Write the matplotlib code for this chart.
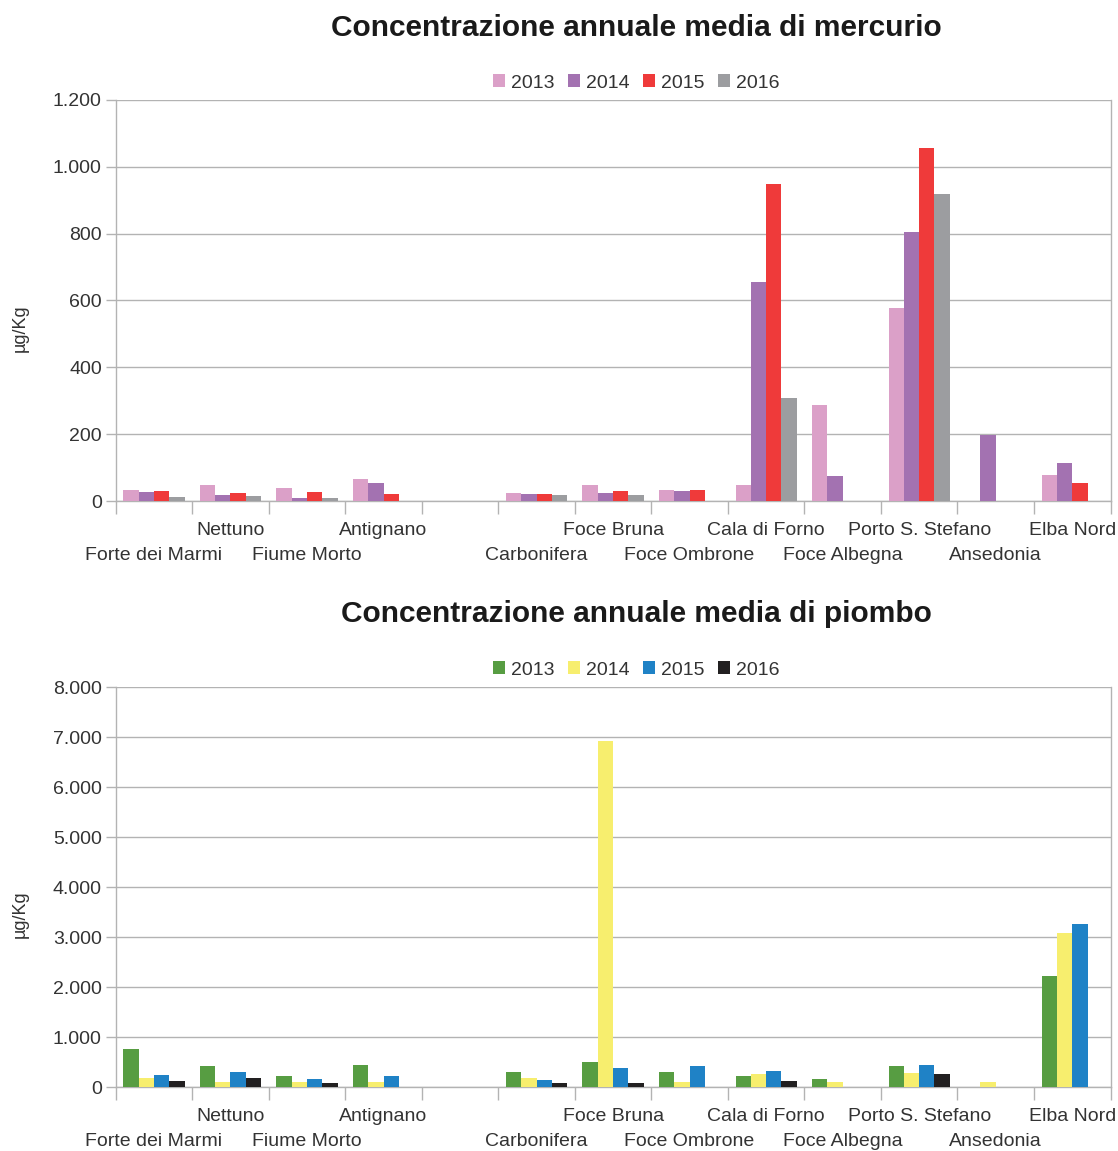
import numpy as np
import matplotlib.pyplot as plt
from matplotlib.ticker import FuncFormatter

plt.rcParams["font.family"] = ["Liberation Sans", "DejaVu Sans"]

# stazioni (lo slot vuoto dopo Antignano resta senza etichetta)
stazioni = ["Forte dei Marmi", "Nettuno", "Fiume Morto", "Antignano", "",
            "Carbonifera", "Foce Bruna", "Foce Ombrone", "Cala di Forno",
            "Foce Albegna", "Porto S. Stefano", "Ansedonia", "Elba Nord"]
riga_alta = [False, True, False, True, False, False, True, False, True,
             False, True, False, True]
anni = ["2013", "2014", "2015", "2016"]

# mercurio, µg/Kg
hg_2013 = [32, 47, 38, 65, 0, 23, 47, 32, 47, 287, 578, 0, 77]
hg_2014 = [26, 17, 8, 53, 0, 20, 23, 29, 656, 74, 804, 198, 113]
hg_2015 = [29, 23, 26, 20, 0, 20, 29, 32, 950, 0, 1055, 0, 53]
hg_2016 = [11, 14, 8, 0, 0, 17, 17, 0, 308, 0, 920, 0, 0]

# piombo, µg/Kg
pb_2013 = [766, 426, 226, 446, 0, 306, 506, 306, 226, 166, 426, 0, 2220]
pb_2014 = [186, 106, 106, 106, 0, 186, 6925, 106, 266, 106, 286, 106, 3080]
pb_2015 = [246, 306, 166, 226, 0, 146, 386, 426, 326, 0, 446, 0, 3260]
pb_2016 = [126, 186, 86, 0, 0, 86, 86, 0, 126, 0, 266, 0, 0]

col_hg = ["#dba0c8", "#a372b1", "#ef3a3a", "#9c9da0"]
col_pb = ["#579d42", "#f7ee6e", "#1f82c6", "#222021"]

grigio = "#b3b3b3"
testo = "#333333"


def migliaia(v, pos):
    return f"{int(v):,}".replace(",", ".")


def grafico(ax, serie, colori, titolo, ymax, passo, y_tit, y_leg, y_lab):
    x = np.arange(len(stazioni))
    w = 0.2
    for i, (vals, c) in enumerate(zip(serie, colori)):
        ax.bar(x + (i - 1.5) * w, vals, w, color=c, linewidth=0, label=anni[i], zorder=3)

    ax.set_xlim(-0.5, len(stazioni) - 0.5)
    ax.set_ylim(0, ymax)
    ax.set_yticks(np.arange(0, ymax + 1, passo))
    ax.yaxis.set_major_formatter(FuncFormatter(migliaia))
    ax.grid(axis="y", color=grigio, linewidth=1, zorder=0)

    ax.set_xticks(np.arange(-0.5, len(stazioni)))
    ax.set_xticklabels([])
    ax.tick_params(axis="x", length=9, color=grigio, width=1)
    ax.tick_params(axis="y", length=7, color=grigio, width=1, labelsize=14,
                   labelcolor=testo, pad=3)

    # etichette delle stazioni su due righe alternate
    h = ax.get_position().height * 1151
    for xi, s, alto in zip(x, stazioni, riga_alta):
        dy = -29.5 / h if alto else -54.5 / h
        ax.text(xi, dy, s, transform=ax.get_xaxis_transform(), ha="center",
                va="center", fontsize=14, color=testo)

    for lato in ["left", "bottom", "right"]:
        ax.spines[lato].set_color(grigio)
        ax.spines[lato].set_linewidth(1)
    ax.spines["top"].set_visible(False)

    fig.text(20 / 1118, y_lab, "µg/Kg", rotation=90, ha="center", va="center",
             fontsize=13, color=testo)
    fig.text(0.569, y_tit, titolo, ha="center", va="center", fontsize=21.5,
             fontweight="bold", color="#1a1a1a")
    fig.legend(loc="center", bbox_to_anchor=(0.569, y_leg), ncol=4, frameon=False,
               fontsize=14, handlelength=0.62, handleheight=0.62, handletextpad=0.3,
               columnspacing=0.7, labelcolor=testo,
               handles=[c.patches[0] for c in ax.containers], labels=anni)


fig = plt.figure(figsize=(11.18, 11.51), dpi=100)
ax1 = fig.add_axes([115.7 / 1118, 1 - 501 / 1151, 994.8 / 1118, 401 / 1151])
ax2 = fig.add_axes([115.7 / 1118, 1 - 1087 / 1151, 994.8 / 1118, 400 / 1151])

grafico(ax1, [hg_2013, hg_2014, hg_2015, hg_2016], col_hg,
        "Concentrazione annuale media di mercurio", 1200, 200,
        1 - 28 / 1151, 1 - 83 / 1151, 1 - 328 / 1151)
grafico(ax2, [pb_2013, pb_2014, pb_2015, pb_2016], col_pb,
        "Concentrazione annuale media di piombo", 8000, 1000,
        1 - 614 / 1151, 1 - 670 / 1151, 1 - 914 / 1151)

plt.savefig("out.png", dpi=100)
